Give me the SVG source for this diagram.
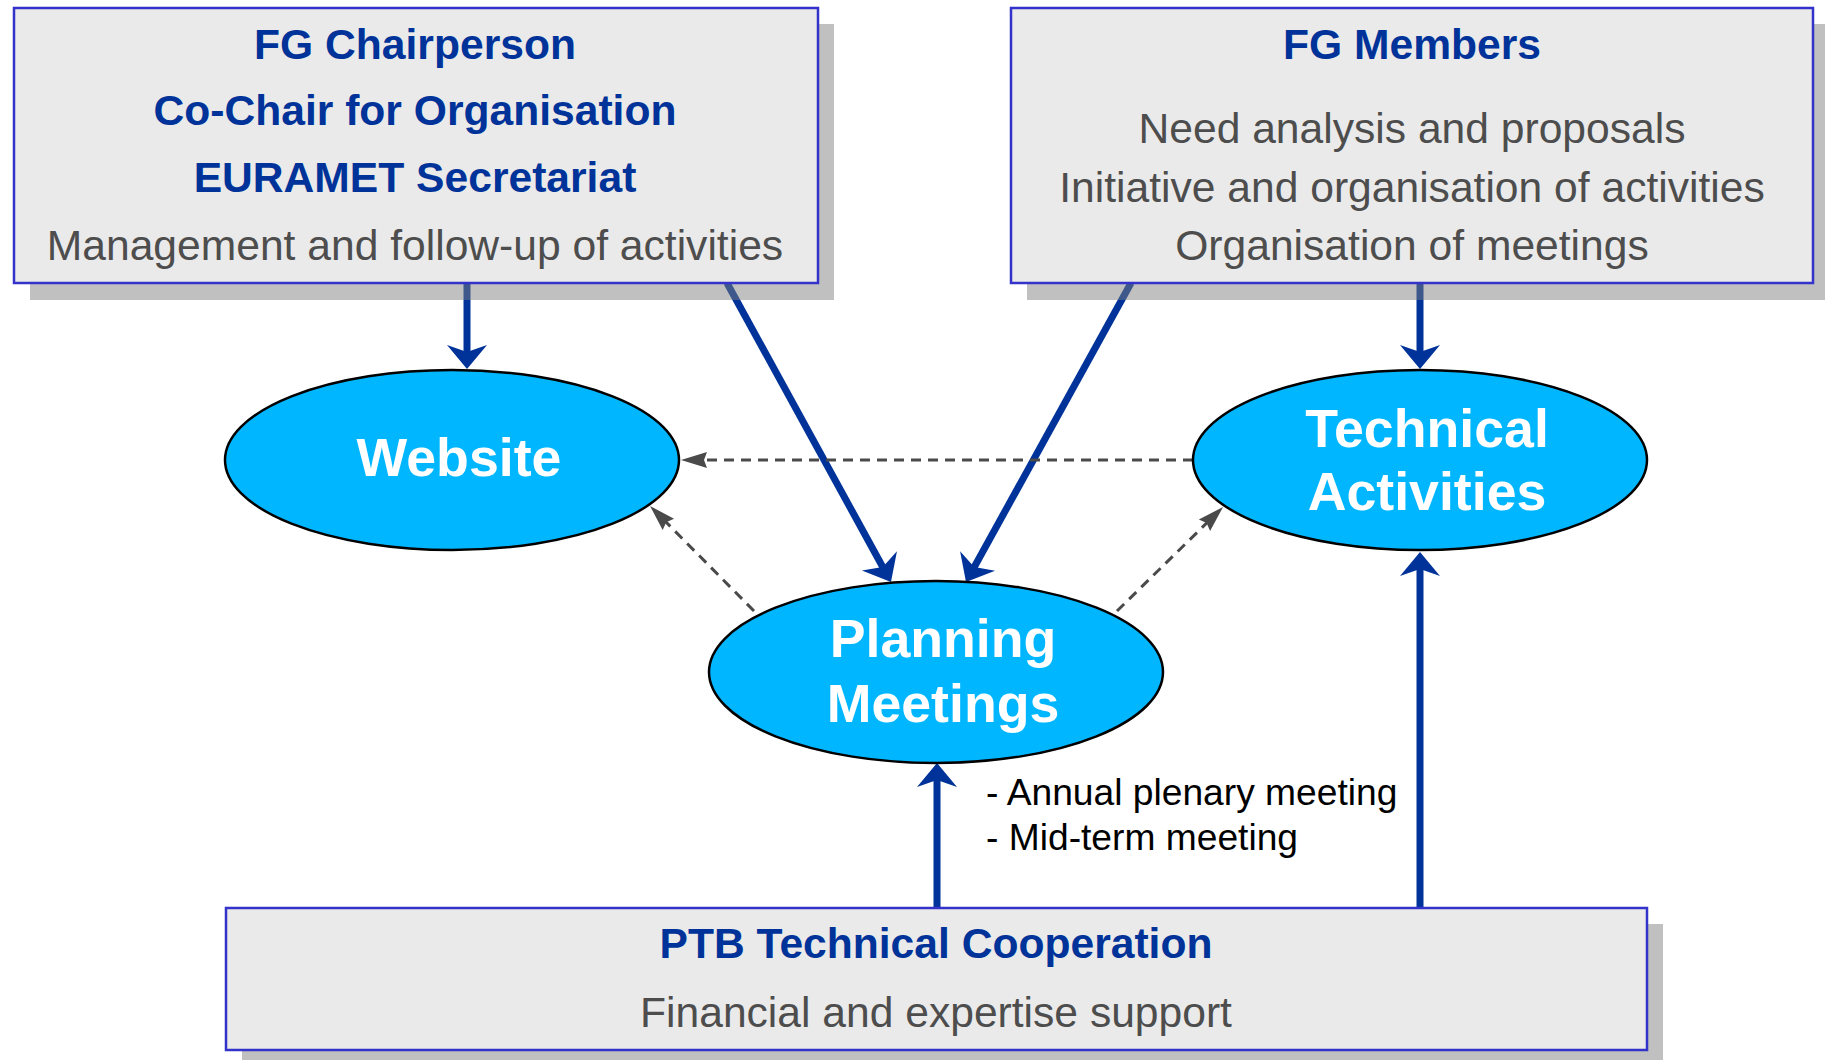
<svg xmlns="http://www.w3.org/2000/svg" width="1825" height="1060" viewBox="0 0 1825 1060">
<defs>
<style>
.shadow{fill:#7e7e7e;fill-opacity:0.49}
.box{fill:#eaeaea;stroke:#3333cc;stroke-width:2.5}
.ell{fill:#00b6ff;stroke:#000;stroke-width:2.5}
.title{font-family:"Liberation Sans",Arial,sans-serif;font-weight:bold;font-size:42.6px;fill:#003399;text-anchor:middle}
.sub{font-family:"Liberation Sans",Arial,sans-serif;font-size:42.6px;fill:#4d4d4d;text-anchor:middle}
.etext{font-family:"Liberation Sans",Arial,sans-serif;font-weight:bold;font-size:53.7px;fill:#fff;text-anchor:middle}
.note{font-family:"Liberation Sans",Arial,sans-serif;font-size:37.2px;fill:#000}
.solid{stroke:#003399;stroke-width:7;fill:none;marker-end:url(#ab)}
.dash{stroke:#4a4a4a;stroke-width:3;fill:none;stroke-dasharray:10 7;marker-end:url(#ag)}
</style>
<marker id="ab" viewBox="-14 -22 28 44" refX="0" refY="0" markerWidth="28" markerHeight="44" markerUnits="userSpaceOnUse" orient="auto">
<path d="M12,0 L-12,-20 L-5,0 L-12,20 Z" fill="#003399"/>
</marker>
<marker id="ag" viewBox="-18 -10 30 20" refX="0" refY="0" markerWidth="30" markerHeight="20" markerUnits="userSpaceOnUse" orient="auto">
<path d="M10,0 L-16,-8 L-13,0 L-16,8 Z" fill="#4a4a4a"/>
</marker>
</defs>
<rect width="1825" height="1060" fill="#fff"/>

<g id="connectors">
<line class="solid" x1="467" y1="283" x2="467" y2="357"/>
<line class="solid" x1="1420" y1="283" x2="1420" y2="357"/>
<line class="solid" x1="727" y1="283" x2="885.2" y2="571.5"/>
<line class="solid" x1="1131" y1="283" x2="971.8" y2="571.5"/>
<line class="solid" x1="937" y1="908" x2="937" y2="775"/>
<line class="solid" x1="1420" y1="908" x2="1420" y2="564"/>
<line class="dash" x1="1193" y1="460" x2="691" y2="460"/>
<line class="dash" x1="754" y1="611" x2="657.1" y2="513.1"/>
<line class="dash" x1="1117" y1="611" x2="1215.9" y2="514"/>
</g>

<g id="node-chair">
<rect class="shadow" x="30" y="24" width="804" height="276"/>
<rect class="box" x="14" y="8" width="804" height="275"/>
<text class="title" x="415" y="59">FG Chairperson</text>
<text class="title" x="415" y="125">Co-Chair for Organisation</text>
<text class="title" x="415" y="192">EURAMET Secretariat</text>
<text class="sub" x="415" y="260">Management and follow-up of activities</text>
</g>

<g id="node-members">
<rect class="shadow" x="1027" y="24" width="798" height="276"/>
<rect class="box" x="1011" y="8" width="802" height="275"/>
<text class="title" x="1412" y="59">FG Members</text>
<text class="sub" x="1412" y="143">Need analysis and proposals</text>
<text class="sub" x="1412" y="202">Initiative and organisation of activities</text>
<text class="sub" x="1412" y="260">Organisation of meetings</text>
</g>

<g id="node-ptb">
<rect class="shadow" x="242" y="924" width="1421" height="136"/>
<rect class="box" x="226" y="908" width="1421" height="142"/>
<text class="title" x="936" y="958">PTB Technical Cooperation</text>
<text class="sub" x="936" y="1027">Financial and expertise support</text>
</g>

<g id="node-website">
<ellipse class="ell" cx="452" cy="460" rx="227" ry="90"/>
<text class="etext" x="459" y="476">Website</text>
</g>

<g id="node-technical">
<ellipse class="ell" cx="1420" cy="460" rx="227" ry="90"/>
<text class="etext" x="1427" y="447">Technical</text>
<text class="etext" x="1427" y="510">Activities</text>
</g>

<g id="node-planning">
<ellipse class="ell" cx="936" cy="672" rx="227" ry="91"/>
<text class="etext" x="943" y="657">Planning</text>
<text class="etext" x="943" y="722">Meetings</text>
</g>

<g id="note">
<text class="note" x="986" y="805">- Annual plenary meeting</text>
<text class="note" x="986" y="850">- Mid-term meeting</text>
</g>
</svg>
